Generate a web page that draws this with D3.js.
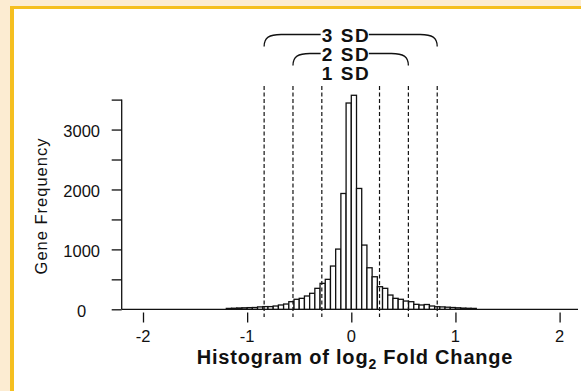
<!DOCTYPE html>
<html>
<head>
<meta charset="utf-8">
<script src="https://cdn.jsdelivr.net/npm/d3@7"></script>
<style>
  body { margin: 0; background: #fcecd2; }
  svg { display: block; font-family: "Liberation Sans", Arial, sans-serif; }
</style>
</head>
<body>
<div id="chart"></div>
<script>
// bin left edges (log2 fold change) and gene counts, bin width 0.05
var binWidth = 0.05;
var binStarts = [-1.2, -1.15, -1.1, -1.05, -1.0, -0.95, -0.9, -0.85, -0.8, -0.75, -0.7, -0.65,
  -0.6, -0.55, -0.5, -0.45, -0.4, -0.35, -0.3, -0.25, -0.2, -0.15, -0.1, -0.05,
  0, 0.05, 0.1, 0.15, 0.2, 0.25, 0.3, 0.35, 0.4, 0.45, 0.5, 0.55,
  0.6, 0.65, 0.7, 0.75, 0.8, 0.85, 0.9, 0.95, 1.0, 1.05, 1.1, 1.15];
var counts = [15, 18, 22, 25, 28, 30, 40, 45, 45, 55, 72, 88,
  127, 167, 183, 222, 267, 350, 433, 500, 722, 1005, 1933, 3443,
  3572, 2017, 1072, 693, 543, 377, 350, 238, 183, 167, 138, 127,
  83, 72, 80, 55, 43, 40, 35, 30, 25, 20, 17, 15];
var xTicks = [-2, -1, 0, 1, 2];
var yTicks = [0, 500, 1000, 1500, 2000, 2500, 3000, 3500];
var yLabels = [0, 1000, 2000, 3000];
var sdMean = -0.006;
var sdValue = 0.277;
var sdLevels = [3, 2, 1];

var width = 581, height = 391;

var svg = d3.select("#chart")
  .append("svg")
  .attr("width", width)
  .attr("height", height);

// frame: cream margin, yellow border, white panel
svg.append("rect").attr("x", 10).attr("y", 6).attr("width", width - 10).attr("height", height - 6).attr("fill", "#f5bf1f");
svg.append("rect").attr("x", 14).attr("y", 9).attr("width", width - 14).attr("height", height - 9).attr("fill", "#ffffff");

var x = d3.scaleLinear()
  .domain([-2, 2])
  .range([143, 559.6]);

var y = d3.scaleLinear()
  .domain([0, 3500])
  .range([309.3, 99.6]);

var ink = "#111";

// y axis
var yAxis = svg.append("g")
  .attr("transform", "translate(121.7,0)")
  .call(d3.axisLeft(y).tickValues(yTicks).tickSize(10).tickFormat(""));
yAxis.select(".domain").attr("d", "M0," + y(3500) + "V" + y(0)).attr("stroke", ink).attr("stroke-width", 1.3);
yAxis.selectAll(".tick line").attr("stroke", ink).attr("stroke-width", 1.3);

svg.append("g").selectAll("text")
  .data(yLabels)
  .enter()
  .append("text")
  .attr("x", 81.7)
  .attr("y", d => y(d) + 7.5)
  .attr("text-anchor", "middle")
  .style("font-size", "16.5px")
  .attr("fill", ink)
  .text(d => d);

// baseline across the plot
svg.append("line")
  .attr("x1", 121.7).attr("x2", 578)
  .attr("y1", y(0)).attr("y2", y(0))
  .attr("stroke", ink).attr("stroke-width", 1.3);

// x axis ticks below the baseline
var xAxis = svg.append("g")
  .attr("transform", "translate(0,312.5)")
  .call(d3.axisBottom(x).tickValues(xTicks).tickSize(10).tickFormat(""));
xAxis.select(".domain").remove();
xAxis.selectAll(".tick line").attr("stroke", ink).attr("stroke-width", 1.3);

svg.append("g").selectAll("text")
  .data(xTicks)
  .enter()
  .append("text")
  .attr("x", d => x(d))
  .attr("y", 341.5)
  .attr("text-anchor", "middle")
  .style("font-size", "16.5px")
  .attr("fill", ink)
  .text(d => d);

// histogram bars
svg.append("g").selectAll("rect")
  .data(binStarts)
  .enter()
  .append("rect")
  .attr("x", d => x(d))
  .attr("y", (d, i) => y(counts[i]))
  .attr("width", d => x(d + binWidth) - x(d))
  .attr("height", (d, i) => y(0) - y(counts[i]))
  .attr("fill", "#fff")
  .attr("stroke", ink)
  .attr("stroke-width", 1.3);

// SD dashed lines
var sdPos = [];
sdLevels.forEach(k => { sdPos.push(sdMean - k * sdValue); sdPos.push(sdMean + k * sdValue); });
svg.append("g").selectAll("line")
  .data(sdPos)
  .enter()
  .append("line")
  .attr("x1", d => x(d)).attr("x2", d => x(d))
  .attr("y1", 86).attr("y2", 317)
  .attr("stroke", ink)
  .attr("stroke-width", 1.2)
  .attr("stroke-dasharray", "4,2.5");

// braces with SD labels
var braceY = { 3: 34.5, 2: 53.5, 1: 72.5 };
sdLevels.forEach(k => {
  var x1 = x(sdMean - k * sdValue), x2 = x(sdMean + k * sdValue);
  var by = braceY[k];
  var label = svg.append("text")
    .attr("x", 346)
    .attr("y", by + 7)
    .attr("text-anchor", "middle")
    .style("font-size", "19px")
    .style("font-weight", "bold")
    .style("letter-spacing", "1.6px")
    .attr("fill", ink)
    .text(k + " SD");
  if (k === 1) return;
  var bb = label.node().getBBox();
  var path = "M" + x1 + "," + (by + 12) + " C" + x1 + "," + (by + 3) + " " + (x1 + 5) + "," + by + " " + (x1 + 17) + "," + by +
    " L" + (bb.x - 1) + "," + by +
    " M" + (bb.x + bb.width - 1.5) + "," + by + " L" + (x2 - 17) + "," + by +
    " C" + (x2 - 5) + "," + by + " " + x2 + "," + (by + 3) + " " + x2 + "," + (by + 12);
  svg.append("path")
    .attr("d", path)
    .attr("fill", "none")
    .attr("stroke", ink)
    .attr("stroke-width", 1.3);
});

// axis titles
svg.append("text")
  .attr("transform", "translate(47,206) rotate(-90)")
  .attr("text-anchor", "middle")
  .style("font-size", "16.5px")
  .style("letter-spacing", "1px")
  .attr("fill", ink)
  .text("Gene Frequency");

var xt = svg.append("text")
  .attr("x", 355)
  .attr("y", 364)
  .attr("text-anchor", "middle")
  .style("font-size", "20px")
  .style("font-weight", "bold")
  .style("letter-spacing", "0.8px")
  .attr("fill", ink);
xt.append("tspan").text("Histogram of log");
xt.append("tspan").attr("dy", 5).style("font-size", "14px").text("2");
xt.append("tspan").attr("dy", -5).text(" Fold Change");
</script>
</body>
</html>
